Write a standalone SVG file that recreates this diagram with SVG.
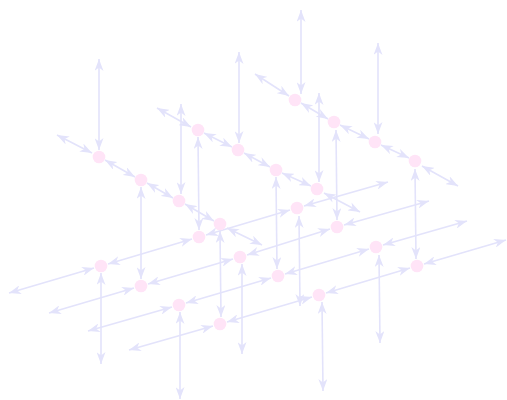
<svg xmlns="http://www.w3.org/2000/svg" width="507" height="400" viewBox="0 0 507 400">
<style>
.e{stroke:#e3e3fb;stroke-width:1.6;fill:none;marker-start:url(#ah);marker-end:url(#ah)}
.n{fill:#ffe4f7}
</style>
<defs>
<marker id="ah" viewBox="0 0 12 9" refX="12" refY="4.5" markerWidth="12" markerHeight="9" markerUnits="userSpaceOnUse" orient="auto-start-reverse">
<path d="M0,0 L12,4.5 L0,9 L3.5,4.5 z" fill="#e3e3fb"/>
</marker>
</defs>
<rect width="507" height="400" fill="#ffffff"/>
<g id="connectors">
<line class="e" x1="57" y1="135" x2="92" y2="153"/>
<line class="e" x1="105" y1="160" x2="135" y2="177"/>
<line class="e" x1="147" y1="183" x2="173" y2="198"/>
<line class="e" x1="185" y1="204" x2="214" y2="221"/>
<line class="e" x1="227" y1="228" x2="262" y2="245"/>
<line class="e" x1="157" y1="108" x2="191" y2="127"/>
<line class="e" x1="204" y1="133" x2="232" y2="147"/>
<line class="e" x1="244" y1="153" x2="270" y2="167"/>
<line class="e" x1="282" y1="173" x2="311" y2="186"/>
<line class="e" x1="324" y1="193" x2="360" y2="212"/>
<line class="e" x1="255" y1="74" x2="289" y2="96"/>
<line class="e" x1="301" y1="103" x2="328" y2="119"/>
<line class="e" x1="340" y1="125" x2="369" y2="139"/>
<line class="e" x1="381" y1="145" x2="409" y2="158"/>
<line class="e" x1="422" y1="166" x2="458" y2="186"/>
<line class="e" x1="9" y1="293" x2="94" y2="268"/>
<line class="e" x1="108" y1="264" x2="192" y2="239"/>
<line class="e" x1="206" y1="235" x2="290" y2="210"/>
<line class="e" x1="304" y1="206" x2="388" y2="182"/>
<line class="e" x1="49" y1="313" x2="134" y2="288"/>
<line class="e" x1="148" y1="284" x2="233" y2="259"/>
<line class="e" x1="247" y1="255" x2="330" y2="229"/>
<line class="e" x1="344" y1="225" x2="429" y2="201"/>
<line class="e" x1="88" y1="331" x2="172" y2="307"/>
<line class="e" x1="186" y1="303" x2="271" y2="278"/>
<line class="e" x1="285" y1="274" x2="369" y2="249"/>
<line class="e" x1="383" y1="245" x2="467" y2="221"/>
<line class="e" x1="129" y1="350" x2="213" y2="326"/>
<line class="e" x1="227" y1="322" x2="312" y2="297"/>
<line class="e" x1="326" y1="293" x2="410" y2="268"/>
<line class="e" x1="424" y1="264" x2="506" y2="240"/>
<line class="e" x1="99" y1="59" x2="99" y2="150"/>
<line class="e" x1="101" y1="273" x2="101" y2="364"/>
<line class="e" x1="141" y1="187" x2="141" y2="279"/>
<line class="e" x1="181" y1="104" x2="181" y2="194"/>
<line class="e" x1="180" y1="312" x2="180" y2="399"/>
<line class="e" x1="220" y1="231" x2="221" y2="317"/>
<line class="e" x1="198" y1="137" x2="199" y2="230"/>
<line class="e" x1="239" y1="52" x2="239" y2="143"/>
<line class="e" x1="242" y1="264" x2="242" y2="354"/>
<line class="e" x1="276" y1="177" x2="277" y2="269"/>
<line class="e" x1="319" y1="93" x2="319" y2="182"/>
<line class="e" x1="322" y1="302" x2="323" y2="391"/>
<line class="e" x1="301" y1="10" x2="301" y2="94"/>
<line class="e" x1="299" y1="216" x2="300" y2="306"/>
<line class="e" x1="336" y1="130" x2="337" y2="220"/>
<line class="e" x1="378" y1="43" x2="378" y2="134"/>
<line class="e" x1="379" y1="255" x2="380" y2="343"/>
<line class="e" x1="415" y1="169" x2="416" y2="259"/>
</g>
<g id="u00"><circle class="n" cx="99" cy="157" r="6.3"/></g>
<g id="u10"><circle class="n" cx="141" cy="180" r="6.3"/></g>
<g id="u20"><circle class="n" cx="179" cy="201" r="6.3"/></g>
<g id="u30"><circle class="n" cx="220" cy="224" r="6.3"/></g>
<g id="u01"><circle class="n" cx="198" cy="130" r="6.3"/></g>
<g id="u11"><circle class="n" cx="238" cy="150" r="6.3"/></g>
<g id="u21"><circle class="n" cx="276" cy="170" r="6.3"/></g>
<g id="u31"><circle class="n" cx="317" cy="189" r="6.3"/></g>
<g id="u02"><circle class="n" cx="295" cy="100" r="6.3"/></g>
<g id="u12"><circle class="n" cx="334" cy="122" r="6.3"/></g>
<g id="u22"><circle class="n" cx="375" cy="142" r="6.3"/></g>
<g id="u32"><circle class="n" cx="415" cy="161" r="6.3"/></g>
<g id="l00"><circle class="n" cx="101" cy="266" r="6.3"/></g>
<g id="l01"><circle class="n" cx="199" cy="237" r="6.3"/></g>
<g id="l02"><circle class="n" cx="297" cy="208" r="6.3"/></g>
<g id="l10"><circle class="n" cx="141" cy="286" r="6.3"/></g>
<g id="l11"><circle class="n" cx="240" cy="257" r="6.3"/></g>
<g id="l12"><circle class="n" cx="337" cy="227" r="6.3"/></g>
<g id="l20"><circle class="n" cx="179" cy="305" r="6.3"/></g>
<g id="l21"><circle class="n" cx="278" cy="276" r="6.3"/></g>
<g id="l22"><circle class="n" cx="376" cy="247" r="6.3"/></g>
<g id="l30"><circle class="n" cx="220" cy="324" r="6.3"/></g>
<g id="l31"><circle class="n" cx="319" cy="295" r="6.3"/></g>
<g id="l32"><circle class="n" cx="417" cy="266" r="6.3"/></g>
</svg>
